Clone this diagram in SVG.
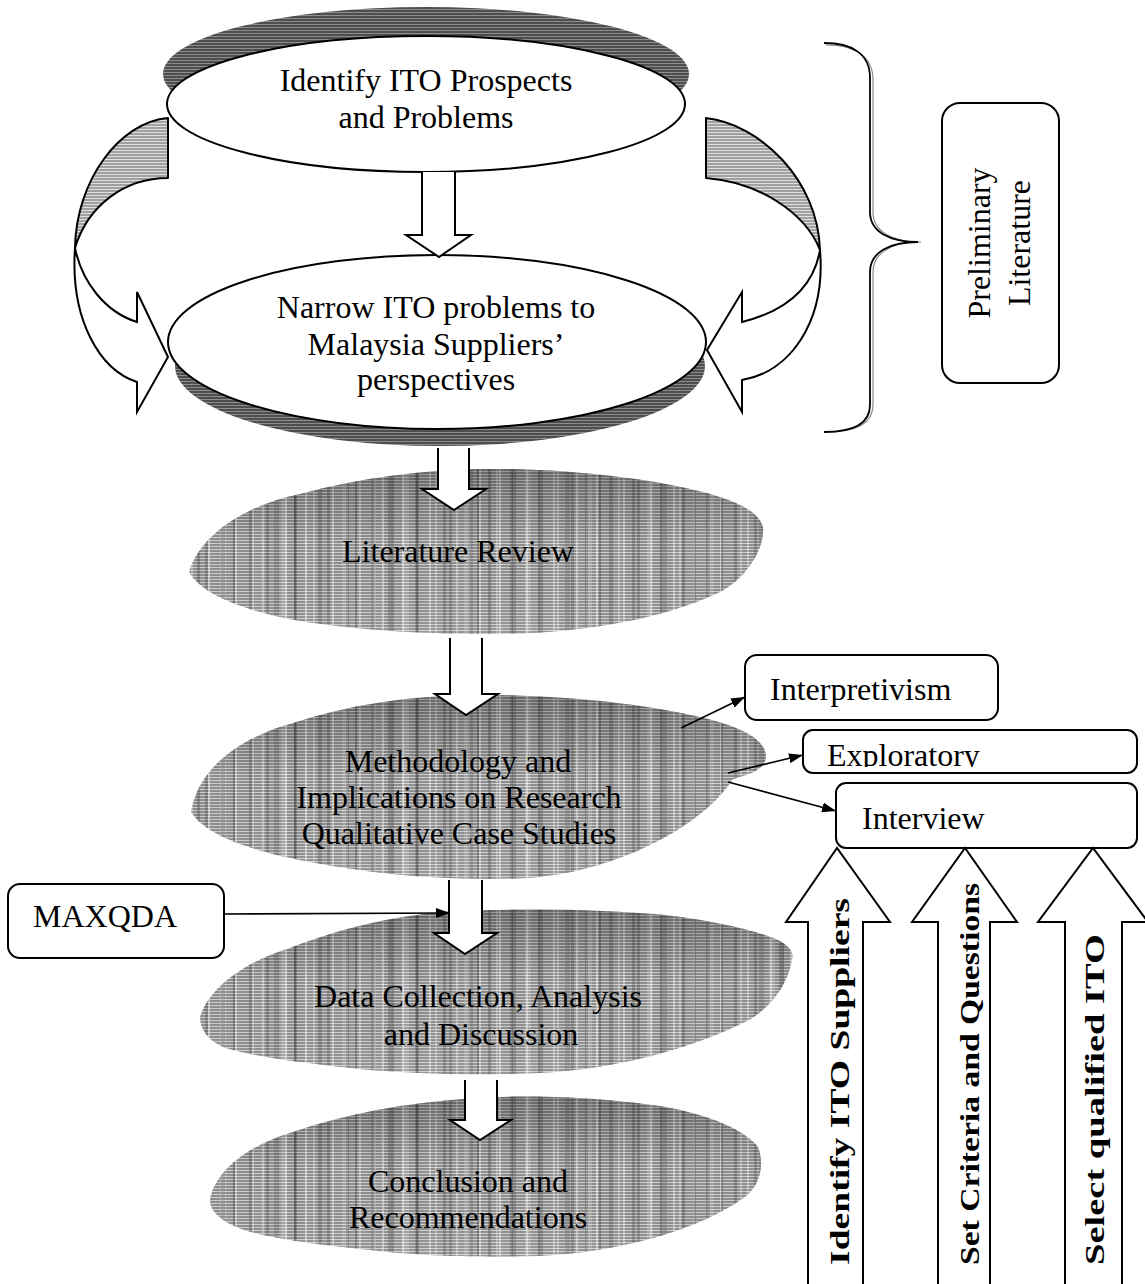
<svg xmlns="http://www.w3.org/2000/svg" width="1145" height="1284" viewBox="0 0 1145 1284">
  <defs>
    <style>
      .lbl { font-family: "Liberation Serif", "Times New Roman", serif; font-size: 32px; fill: #000; }
      .mid { text-anchor: middle; }
      .vlbl { font-family: "Liberation Serif", "Times New Roman", serif; font-size: 28px; font-weight: bold; fill: #000; }
      .outline { fill: #fff; stroke: #000; stroke-width: 2; stroke-linejoin: miter; }
      .box { fill: #fff; stroke: #000; stroke-width: 2; }
      .thin { fill: none; stroke: #000; stroke-width: 1.6; }
      .cloud-base { fill: url(#halftone); }
      .cloud-streak { fill: url(#streaks); }
      .cloud-streak2 { fill: url(#streaks2); }
      .cloud-shade { fill: url(#topshade); }
    </style>
    <!-- halftone grey used for the process clouds -->
    <pattern id="halftone" width="4" height="3" patternUnits="userSpaceOnUse">
      <rect width="4" height="3" fill="#8e8e8e"/>
      <rect width="4" height="1" fill="#cfcfcf"/>
    </pattern>
    <!-- two sets of vertical streaks laid over the clouds -->
    <pattern id="streaks" width="97" height="400" patternUnits="userSpaceOnUse">
      <rect x="3" width="3" height="400" fill="#444" opacity="0.35"/>
      <rect x="14" width="2" height="400" fill="#fff" opacity="0.45"/>
      <rect x="27" width="4" height="400" fill="#4a4a4a" opacity="0.3"/>
      <rect x="41" width="2" height="400" fill="#fff" opacity="0.4"/>
      <rect x="55" width="3" height="400" fill="#444" opacity="0.3"/>
      <rect x="68" width="2" height="400" fill="#fff" opacity="0.35"/>
      <rect x="80" width="5" height="400" fill="#606060" opacity="0.3"/>
      <rect x="91" width="2" height="400" fill="#fff" opacity="0.4"/>
    </pattern>
    <pattern id="streaks2" width="61" height="300" patternUnits="userSpaceOnUse">
      <rect x="8" width="2" height="300" fill="#fff" opacity="0.3"/>
      <rect x="22" width="3" height="300" fill="#333" opacity="0.25"/>
      <rect x="37" width="6" height="300" fill="#fff" opacity="0.18"/>
      <rect x="50" width="2" height="300" fill="#222" opacity="0.3"/>
    </pattern>
    <linearGradient id="topshade" x1="0" y1="0" x2="0" y2="1">
      <stop offset="0" stop-color="#000" stop-opacity="0.28"/>
      <stop offset="0.45" stop-color="#000" stop-opacity="0"/>
      <stop offset="1" stop-color="#fff" stop-opacity="0.08"/>
    </linearGradient>
    <!-- dark rim of the two flat discs -->
    <pattern id="rim" width="4" height="3" patternUnits="userSpaceOnUse">
      <rect width="4" height="3" fill="#4e4e4e"/>
      <rect width="4" height="1" fill="#8c8c8c"/>
    </pattern>
    <!-- light grey underside of the looping arrows -->
    <pattern id="band" width="4" height="3" patternUnits="userSpaceOnUse">
      <rect width="4" height="3" fill="#a0a0a0"/>
      <rect width="4" height="1" fill="#dedede"/>
    </pattern>
    <marker id="arrowhead" viewBox="0 0 14 10" refX="14" refY="5" markerWidth="14" markerHeight="10" markerUnits="userSpaceOnUse" orient="auto">
      <path d="M0,0 L14,5 L0,10 Z" fill="#000"/>
    </marker>
    <path id="cloud-lit" d="M189,572 C200,535 245,505 300,494 C360,478 420,470 480,469 C560,468 660,478 720,497 C745,505 760,515 763,527 C765,550 745,580 718,593 C660,620 580,633 500,634 C420,635 330,628 280,617 C235,607 200,592 189,572 Z"/>
    <path id="cloud-meth" d="M191,812 C198,768 240,738 290,724 C350,704 410,696 470,695 C560,694 650,704 712,720 C745,729 764,740 766,755 C767,768 752,774 733,779 C700,830 610,873 527,878 C440,882 355,872 290,858 C240,847 203,832 191,812 Z"/>
    <path id="cloud-data" d="M200,1017 C210,985 250,960 290,948 C350,925 400,915 455,911 C530,908 610,910 665,915 C710,920 755,930 778,940 C790,946 794,952 792,960 C788,985 770,1008 749,1020 C690,1050 610,1070 539,1073 C470,1076 410,1073 370,1070 C300,1063 245,1055 223,1047 C208,1040 200,1030 200,1017 Z"/>
    <path id="cloud-concl" d="M210,1200 C215,1170 250,1145 290,1133 C350,1112 420,1100 497,1097 C560,1095 620,1100 665,1107 C710,1115 745,1130 758,1147 C765,1165 760,1185 745,1197 C700,1230 620,1252 539,1256 C470,1258 410,1255 370,1250 C310,1244 270,1238 244,1230 C222,1222 210,1212 210,1200 Z"/>
  </defs>

  <rect width="1145" height="1284" fill="#fff"/>

  <!-- flat disc: identify prospects -->
  <g id="identify-prospects">
    <ellipse cx="426" cy="74" rx="263" ry="67" fill="url(#rim)"/>
    <ellipse cx="426" cy="104" rx="259" ry="68" fill="#fff" stroke="#000" stroke-width="2"/>
    <text class="lbl mid" x="426" y="91">Identify ITO Prospects</text>
    <text class="lbl mid" x="426" y="128">and Problems</text>
  </g>

  <!-- flat disc: narrow problems -->
  <g id="narrow-problems">
    <ellipse cx="440" cy="366" rx="265" ry="80" fill="url(#rim)"/>
    <ellipse cx="437" cy="342" rx="269" ry="87" fill="#fff" stroke="#000" stroke-width="2"/>
    <text class="lbl mid" x="436" y="318">Narrow ITO problems to</text>
    <text class="lbl mid" x="436" y="355">Malaysia Suppliers’</text>
    <text class="lbl mid" x="436" y="390">perspectives</text>
  </g>

  <!-- brace grouping the first two steps -->
  <g id="brace">
    <path d="M826,45 C853,45 873,55 873,80 L873,212 C873,232 893,242 921,242 C893,242 873,252 873,272 L873,405 C873,425 853,432 826,432" fill="none" stroke="#888" stroke-width="1.2"/>
    <path d="M824,43 C851,43 870,53 870,78 L870,212 C870,232 890,242 918,242 C890,242 870,252 870,272 L870,405 C870,425 851,432 824,432" fill="none" stroke="#000" stroke-width="1.8"/>
  </g>

  <g id="preliminary-literature">
    <rect class="box" x="942" y="103" width="117" height="280" rx="18"/>
    <text class="lbl mid" transform="translate(990,243) rotate(-90)">Preliminary</text>
    <text class="lbl mid" transform="translate(1030,243) rotate(-90)">Literature</text>
  </g>

  <!-- process clouds -->
  <g id="literature-review">
    <use href="#cloud-lit" class="cloud-base"/>
    <use href="#cloud-lit" class="cloud-streak"/>
    <use href="#cloud-lit" class="cloud-streak2"/>
    <use href="#cloud-lit" class="cloud-shade"/>
    <text class="lbl mid" x="458" y="562">Literature Review</text>
  </g>

  <g id="methodology">
    <use href="#cloud-meth" class="cloud-base"/>
    <use href="#cloud-meth" class="cloud-streak"/>
    <use href="#cloud-meth" class="cloud-streak2"/>
    <use href="#cloud-meth" class="cloud-shade"/>
    <text class="lbl mid" x="458" y="772">Methodology and</text>
    <text class="lbl mid" x="459" y="808">Implications on Research</text>
    <text class="lbl mid" x="459" y="844">Qualitative Case Studies</text>
  </g>

  <g id="data-collection">
    <use href="#cloud-data" class="cloud-base"/>
    <use href="#cloud-data" class="cloud-streak"/>
    <use href="#cloud-data" class="cloud-streak2"/>
    <use href="#cloud-data" class="cloud-shade"/>
    <text class="lbl mid" x="478" y="1007">Data Collection, Analysis</text>
    <text class="lbl mid" x="481" y="1045">and Discussion</text>
  </g>

  <g id="conclusion">
    <use href="#cloud-concl" class="cloud-base"/>
    <use href="#cloud-concl" class="cloud-streak"/>
    <use href="#cloud-concl" class="cloud-streak2"/>
    <use href="#cloud-concl" class="cloud-shade"/>
    <text class="lbl mid" x="468" y="1192">Conclusion and</text>
    <text class="lbl mid" x="468" y="1228">Recommendations</text>
  </g>

  <!-- side boxes -->
  <g id="maxqda">
    <rect class="box" x="8" y="884" width="216" height="74" rx="12"/>
    <text class="lbl" x="33" y="927">MAXQDA</text>
  </g>

  <g id="interpretivism">
    <rect class="box" x="745" y="655" width="253" height="65" rx="12"/>
    <text class="lbl" x="770" y="700">Interpretivism</text>
  </g>

  <g id="exploratory">
    <clipPath id="exploratory-frame">
      <rect x="805" y="732" width="330" height="35"/>
    </clipPath>
    <rect class="box" x="803" y="730" width="334" height="43" rx="10"/>
    <text class="lbl" x="827" y="766" clip-path="url(#exploratory-frame)">Exploratory</text>
  </g>

  <g id="interview">
    <rect class="box" x="836" y="783" width="301" height="65" rx="10"/>
    <text class="lbl" x="862" y="829">Interview</text>
  </g>

  <!-- arrows -->
  <g id="connectors">
    <!-- looping arrows around the first two discs -->
    <g id="loop-left">
      <path d="M168,118 C120,122 76,180 75,248 C88,205 125,178 168,178 Z" fill="url(#band)" stroke="#000" stroke-width="2" stroke-linejoin="round"/>
      <path d="M75,248 C70,320 100,370 137,382 L137,412 L168,357 L137,292 L137,322 C105,312 82,282 75,248 Z" class="outline"/>
    </g>
    <g id="loop-right">
      <path d="M706,118 C760,124 818,180 820,250 C805,212 758,182 706,178 Z" fill="url(#band)" stroke="#000" stroke-width="2" stroke-linejoin="round"/>
      <path d="M820,250 C826,322 790,372 742,380 L742,412 L707,350 L742,292 L742,322 C790,310 814,285 820,250 Z" class="outline"/>
    </g>

    <!-- downward block arrows between steps -->
    <path class="outline" d="M422,172 L422,235 L406,235 L439,257 L471,235 L455,235 L455,172"/>
    <path class="outline" d="M438,448 L438,489 L422,489 L454,510 L486,489 L469,489 L469,448"/>
    <path class="outline" d="M450,638 L450,694 L435,694 L466,715 L498,694 L482,694 L482,638"/>
    <path class="outline" d="M449,880 L449,933 L434,933 L465,954 L497,933 L482,933 L482,880"/>
    <path class="outline" d="M465,1080 L465,1120 L450,1120 L480,1140 L511,1120 L497,1120 L497,1080"/>

    <!-- upward block arrows feeding the interview -->
    <g id="up-identify">
      <path class="outline" d="M808,1290 L808,922 L786,922 L837,848 L890,922 L863,922 L863,1290"/>
      <text class="vlbl" transform="translate(849,1265) rotate(-90)" textLength="367" lengthAdjust="spacingAndGlyphs">Identify ITO Suppliers</text>
    </g>
    <g id="up-criteria">
      <path class="outline" d="M938,1290 L938,922 L912,922 L965,848 L1017,922 L990,922 L990,1290"/>
      <text class="vlbl" transform="translate(979,1265) rotate(-90)" textLength="382" lengthAdjust="spacingAndGlyphs">Set Criteria and Questions</text>
    </g>
    <g id="up-select">
      <path class="outline" d="M1065,1290 L1065,922 L1038,922 L1093,848 L1148,922 L1122,922 L1122,1290"/>
      <text class="vlbl" transform="translate(1104,1265) rotate(-90)" textLength="331" lengthAdjust="spacingAndGlyphs">Select qualified ITO</text>
    </g>

    <!-- thin pointer arrows -->
    <line class="thin" x1="681" y1="728" x2="745" y2="697" marker-end="url(#arrowhead)"/>
    <line class="thin" x1="728" y1="773" x2="803" y2="755" marker-end="url(#arrowhead)"/>
    <line class="thin" x1="728" y1="782" x2="836" y2="811" marker-end="url(#arrowhead)"/>
    <line class="thin" x1="224" y1="914" x2="450" y2="913" stroke-width="2.2" marker-end="url(#arrowhead)"/>
  </g>
</svg>
